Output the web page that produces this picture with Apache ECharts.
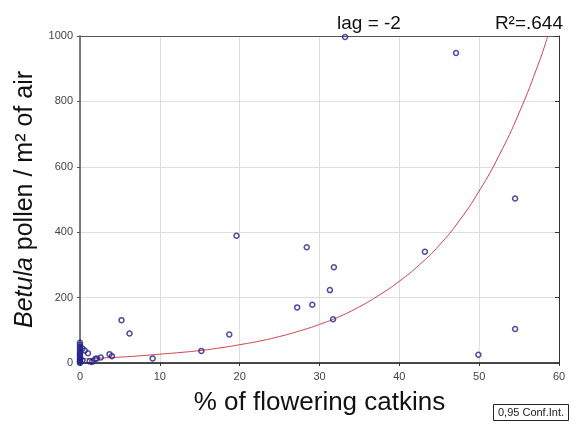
<!DOCTYPE html>
<html>
<head>
<meta charset="utf-8">
<script src="https://cdn.jsdelivr.net/npm/echarts@6/dist/echarts.min.js"></script>
<style>
	html, body { margin: 0; padding: 0; background: #fff; }
	#chart { width: 579px; height: 425px; }
</style>
</head>
<body>
<div id="chart"></div>
<script>
// 观测点 --- % of flowering catkins
var catkinsX = [
	0, 0, 0, 0, 0, 0, 0, 0, 0, 0, 0, 0, 0,
	0.3, 0.3, 0.6, 1.0, 1.2, 1.5, 1.9, 2.1, 2.6, 3.7, 4.0,
	5.2, 6.2, 9.1, 15.2, 18.7, 19.6,
	27.2, 28.4, 29.1, 31.3, 31.7, 31.8, 33.2,
	43.2, 47.1, 49.9, 54.5, 54.5
];
// 观测点 --- pollen / m² of air
var pollenY = [
	62, 55, 48, 42, 36, 30, 25, 20, 15, 10, 6, 3, 0,
	44, 8, 38, 30, 5, 3, 12, 14, 17, 27, 21,
	131, 90, 14, 37, 87, 389,
	170, 354, 178, 223, 134, 293, 997,
	340, 948, 25, 503, 104
];
// 拟合曲线
var fitX = [0, 2.5, 5, 7.5, 10, 12.5, 15, 17.5, 20, 22.5, 25, 27.5, 30, 32.5, 35, 37.5, 40, 42.5, 45, 47.5, 50, 52.5, 55, 57.5, 58.6];
var fitY = [12, 15, 18, 22, 27, 32, 38, 46, 56, 67, 81, 98, 118, 142, 172, 208, 250, 300, 360, 435, 526, 635, 765, 920, 1000];
// 刻度
var xTicks = [0, 10, 20, 30, 40, 50, 60];
var yTicks = [0, 200, 400, 600, 800, 1000];

;(function (window, document, echarts) {

	var myChart = echarts.init(document.getElementById('chart'));

	var points = catkinsX.map(function (x, i) { return [x, pollenY[i]]; });
	var curve = fitX.map(function (x, i) { return [x, fitY[i]]; });

	var font = 'Liberation Sans, Arial, sans-serif';

	var option = {
		backgroundColor: '#fff',
		animation: false,
		textStyle: { fontFamily: font },
		title: [
			{ text: 'lag = -2', left: 332, top: 9, textStyle: { fontSize: 19, fontWeight: 'normal', color: '#111', fontFamily: font } },
			{ text: 'R²=.644', right: 11, top: 9, textStyle: { fontSize: 19, fontWeight: 'normal', color: '#111', fontFamily: font } }
		],
		grid: { left: 80, right: 20, top: 36, bottom: 62 },
		xAxis: [
			{
				type: 'value', min: xTicks[0], max: xTicks[xTicks.length - 1], interval: 10,
				name: '% of flowering catkins', nameLocation: 'middle', nameGap: 27,
				nameTextStyle: { fontSize: 26, color: '#111', fontFamily: font },
				axisLine: { lineStyle: { color: '#111', width: 1.5 } },
				axisTick: { show: true, length: 3, lineStyle: { color: '#333' } },
				axisLabel: { fontSize: 11, color: '#444', margin: 8 },
				splitLine: { lineStyle: { color: '#ddd' } }
			},
			{
				type: 'value', position: 'top', min: 0, max: 60, interval: 10,
				axisLine: { show: true, onZero: false, lineStyle: { color: '#555' } },
				axisTick: { show: false }, axisLabel: { show: false }, splitLine: { show: false }
			}
		],
		yAxis: [
			{
				type: 'value', min: yTicks[0], max: yTicks[yTicks.length - 1], interval: 200,
				name: '{i|Betula} pollen / m² of air', nameLocation: 'middle', nameGap: 40,
				nameTextStyle: {
					fontSize: 25, color: '#111', fontFamily: font,
					rich: { i: { fontSize: 25, fontStyle: 'italic', color: '#111', fontFamily: font } }
				},
				axisLine: { show: true, lineStyle: { color: '#555', width: 1.5 } },
				axisTick: { show: true, length: 3, lineStyle: { color: '#555' } },
				axisLabel: { fontSize: 11, color: '#444', margin: 7, formatter: function (v) { return String(v); } },
				splitLine: { lineStyle: { color: '#ddd' } }
			},
			{
				type: 'value', position: 'right', min: 0, max: 1000, interval: 200,
				axisLine: { show: true, onZero: false, lineStyle: { color: '#333' } },
				axisTick: { show: true, inside: true, length: 4, lineStyle: { color: '#333' } },
				axisLabel: { show: false }, splitLine: { show: false }
			}
		],
		series: [
			{
				name: 'fit', type: 'line', data: curve, smooth: true, showSymbol: false,
				lineStyle: { color: '#d0404e', width: 1 }, z: 2
			},
			{
				name: 'obs', type: 'scatter', data: points, symbol: 'circle', symbolSize: 5,
				itemStyle: { color: 'rgba(255,255,255,0)', borderColor: '#22228a', borderWidth: 1.5 }, z: 3
			}
		],
		graphic: [
			{
				type: 'group', left: 493, top: 404,
				children: [
					{ type: 'rect', shape: { x: 0, y: 0, width: 75, height: 16 }, style: { fill: '#fff', stroke: '#222', lineWidth: 1 } },
					{ type: 'text', style: { x: 37.5, y: 8.5, text: '0,95 Conf.Int.', align: 'center', verticalAlign: 'middle', font: '11px ' + font, fill: '#222' } }
				]
			}
		]
	};

	myChart.setOption(option);

})(window, document, echarts);
</script>
</body>
</html>
